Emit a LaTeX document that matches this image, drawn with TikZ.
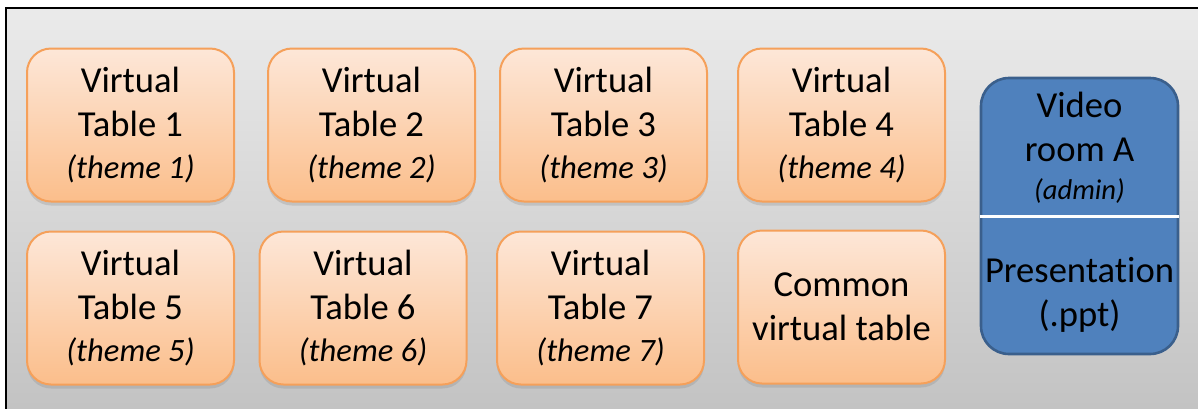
\documentclass[tikz,border=0pt]{standalone}
\usepackage{fontspec}
\setmainfont[Ligatures=NoCommon]{Carlito}
\usetikzlibrary{shadows}

\definecolor{peachtop}{HTML}{FDE7D8}
\definecolor{peachbot}{HTML}{FBBE8B}
\definecolor{peachline}{HTML}{F5A05A}
\definecolor{roomfill}{HTML}{4F81BD}
\definecolor{roomline}{HTML}{3A5F8C}

\tikzset{
  table/.style={rectangle, rounded corners=12pt, draw=peachline, line width=1pt,
    top color=peachtop, bottom color=peachbot,
    drop shadow={shadow xshift=0pt, shadow yshift=-2pt, opacity=0.25},
    minimum width=103.5pt, minimum height=76.5pt, align=center,
    font=\fontsize{18.3}{22}\selectfont}
}
\newcommand{\themetext}[1]{{\fontsize{16.3}{18}\selectfont\itshape (#1)}}

\begin{document}
\begin{tikzpicture}[x=0.5pt, y=-0.5pt]
      \useasboundingbox (0, 0) rectangle (1198, 408);
      \shade[top color=black!8, bottom color=black!24] (6, 8) rectangle (1210, 420);
      \draw[line width=1.2pt] (6, 420) -- (6, 8) -- (1210, 8);

      \node[table] (t1) at (130.5, 125) {Virtual\\Table 1\\[-1pt]\themetext{theme 1}};
      \node[table] (t2) at (371.5, 125) {Virtual\\Table 2\\[-1pt]\themetext{theme 2}};
      \node[table] (t3) at (603.5, 125) {Virtual\\Table 3\\[-1pt]\themetext{theme 3}};
      \node[table] (t4) at (841.5, 125) {Virtual\\Table 4\\[-1pt]\themetext{theme 4}};
      \node[table] (t5) at (130.5, 308) {Virtual\\Table 5\\[-1pt]\themetext{theme 5}};
      \node[table] (t6) at (363, 308) {Virtual\\Table 6\\[-1pt]\themetext{theme 6}};
      \node[table] (t7) at (600.5, 308) {Virtual\\Table 7\\[-1pt]\themetext{theme 7}};
      \node[table] (common) at (841.5, 307) {Common\\virtual table};

      \node[rectangle, rounded corners=14pt, draw=roomline, line width=1.3pt, fill=roomfill,
        minimum width=98.5pt, minimum height=138pt] (room) at (1079.5, 216) {};
      \coordinate (cutl) at (room.west);
      \coordinate (cutr) at (room.east);
      \draw[white, line width=1.5pt] (cutl) -- (cutr);
      \node[align=center, font=\fontsize{18.3}{22}\selectfont, anchor=south] (roomname) at ([yshift=3pt]room.center)
        {Video\\room A\\[-3pt]{\fontsize{14.3}{16}\selectfont\itshape (admin)}};
      \node[align=center, font=\fontsize{18.3}{22}\selectfont, anchor=north] (ppt) at ([yshift=-17pt]room.center)
        {Presentation\\(.ppt)};
    \end{tikzpicture}
\end{document}
